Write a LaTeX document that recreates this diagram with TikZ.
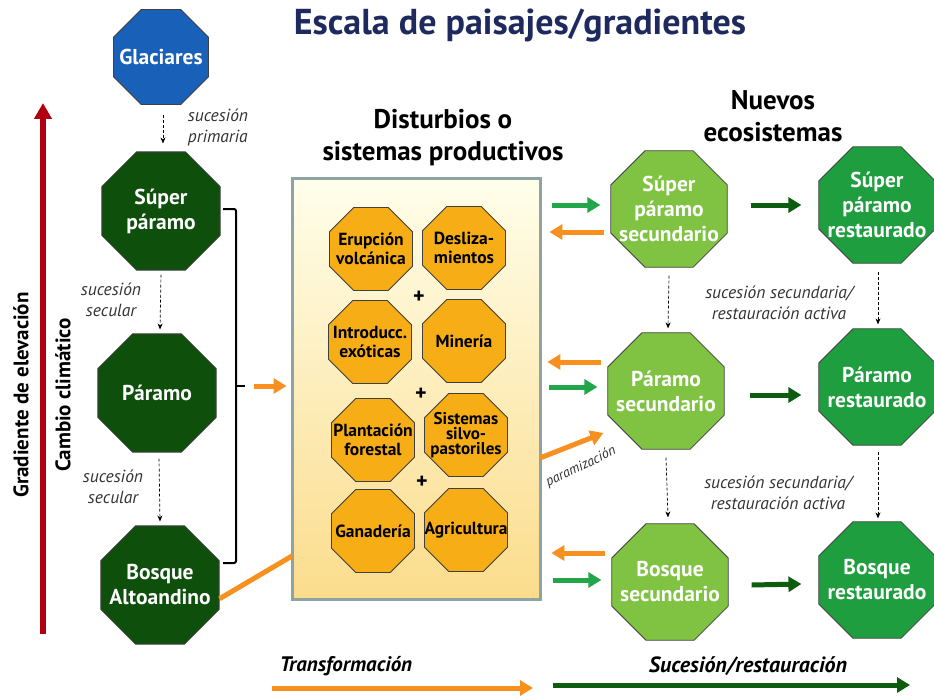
\documentclass[tikz,border=0pt]{standalone}
\usepackage{fontspec}
\setmainfont{PT Sans}
\usetikzlibrary{shapes.geometric,arrows.meta,calc}
\definecolor{navy}{HTML}{1E2A5E}
\definecolor{glablue}{HTML}{1860B8}
\definecolor{dkgreen}{HTML}{0E4F0C}
\definecolor{ltgreen}{HTML}{80C342}
\definecolor{rsgreen}{HTML}{1F9E3F}
\definecolor{octorange}{HTML}{F7AE16}
\definecolor{arrorange}{HTML}{F7901E}
\definecolor{arrgreen}{HTML}{22A64A}
\definecolor{arrdkgreen}{HTML}{0E5C0E}
\definecolor{elevred}{HTML}{B0000F}
\definecolor{boxborder}{HTML}{8FA3A5}
\definecolor{labelgray}{HTML}{333333}
\tikzset{
  oct/.style={regular polygon, regular polygon sides=8,
    draw=black!75, line width=0.8pt, inner sep=0pt},
  wlbl/.style={text=white, align=center, font=\bfseries\fontsize{21.5}{25}\selectfont},
  darkoct/.style={oct, fill=dkgreen, minimum size=128pt},
  lightoct/.style={oct, fill=ltgreen, minimum size=126pt},
  restoct/.style={oct, fill=rsgreen, minimum size=126pt},
  smalloct/.style={oct, fill=octorange, minimum size=90pt},
  blbl/.style={text=black, align=center, font=\bfseries\fontsize{17.5}{19}\selectfont},
  dasharr/.style={densely dashed, line width=0.7pt, -{Stealth[length=6pt,width=5pt]}},
  ital/.style={text=labelgray, align=center, font=\itshape\fontsize{17.5}{21}\selectfont},
  heading/.style={align=center, font=\bfseries\fontsize{27}{32}\selectfont},
  fatarr/.style={line width=5pt, -{Triangle[length=13pt,width=15pt]}},
  oarr/.style={fatarr, draw=arrorange},
  garr/.style={fatarr, draw=arrgreen},
  dgarr/.style={fatarr, draw=arrdkgreen},
  plus/.style={font=\bfseries\fontsize{22}{22}\selectfont},
}
\begin{document}
\begin{tikzpicture}[x=1pt,y=-1pt]
\useasboundingbox (0,0) rectangle (934,698);

% title
\node[text=navy, font=\bfseries\fontsize{36}{38}\selectfont] (title) at (520,26) {Escala de paisajes/gradientes};

% left column
\node[oct, fill=glablue, minimum size=103pt,
  label={[wlbl]center:Glaciares}] (gla) at (161,57) {};
\node[darkoct, label={[wlbl]center:Súper\\páramo}] (sp) at (161,211) {};
\node[darkoct, label={[wlbl]center:Páramo}] (pa) at (157,393) {};
\node[darkoct, label={[wlbl]center:Bosque\\Altoandino}] (ba) at (160,585) {};

\draw[dasharr] ($(gla.south)+(2,10)$) -- ($(sp.north)+(2,-8)$);
\node[ital, align=left] (l1) at (218,127) {sucesión\\primaria};
\draw[dasharr] ($(sp.south)+(0,4)$) -- ($(pa.north)+(3,-4)$);
\node[ital] (l2) at (111,300) {sucesión\\secular};
\draw[dasharr] ($(pa.south)+(2,6)$) -- ($(ba.north)+(0,-4)$);
\node[ital] (l3) at (113,487) {sucesión\\secular};

% elevation arrow and labels
\coordinate (rbot) at (43,634);
\coordinate (rtop) at (43,103);
\draw[elevred, line width=6pt, -{Triangle[length=16pt,width=17pt]}] (rbot) -- (rtop);
\node[rotate=90, font=\bfseries\fontsize{21}{21}\selectfont] (grad) at (21,395) {Gradiente de elevación};
\node[rotate=90, font=\bfseries\fontsize{21}{21}\selectfont] (cc) at (63,395) {Cambio climático};

% bracket
\draw[line width=2pt, rounded corners=2pt] (223,209) -- (236,209) -- (236,563) -- (223,563);
\draw[line width=2pt] (236,386) -- (245,386);

% box
\node[heading] (dh) at (443,138) {Disturbios o\\sistemas productivos};
\node[draw=boxborder, line width=3pt, top color=orange!5!yellow!8, bottom color={rgb,255:red,251;green,220;blue,140},
  minimum width=248pt, minimum height=421pt, inner sep=0pt] (box) at (416,389) {};
\draw[oarr] ($(box.west)+(-37,-3)$) -- ($(box.west)+(-4,-3)$);
\coordinate (boxin) at (292,556);
\draw[arrorange, line width=5pt] (ba.-13) -- (boxin);

\node[smalloct, label={[blbl]center:Erupción\\volcánica}] (eru) at (371,249) {};
\node[smalloct, label={[blbl]center:Desliza-\\mientos}] (des) at (464,248) {};
\node[plus] (p1) at (419,297) {+};
\node[smalloct, label={[blbl]center:Introducc.\\exóticas}] (intr) at (370,342) {};
\node[smalloct, label={[blbl]center:Minería}] (min) at (464,341) {};
\node[plus] (p2) at (421,394) {+};
\node[smalloct, label={[blbl]center:Plantación\\forestal}] (pla) at (373,440) {};
\node[smalloct, label={[blbl,font=\bfseries\fontsize{17}{15}\selectfont]center:Sistemas\\silvo-\\pastoriles}] (sis) at (466,435) {};
\node[plus] (p3) at (422,482) {+};
\node[smalloct, label={[blbl]center:Ganadería}] (gan) at (373,531) {};
\node[smalloct, label={[blbl]center:Agricultura}] (agr) at (466,530) {};

% right side
\node[heading] (nh) at (773,116) {Nuevos\\ecosistemas};
\node[lightoct, label={[wlbl]center:Súper\\páramo\\secundario}] (sps) at (669,209) {};
\node[lightoct, label={[wlbl]center:Páramo\\secundario}] (pas) at (666,391) {};
\node[lightoct, label={[wlbl]center:Bosque\\secundario}] (bas) at (670,582) {};
\node[restoct, label={[wlbl]center:Súper\\páramo\\restaurado}] (spr) at (877,205) {};
\node[restoct, label={[wlbl]center:Páramo\\restaurado}] (par) at (877,387) {};
\node[restoct, label={[wlbl]center:Bosque\\restaurado}] (bar) at (877,580) {};

% arrows box <-> secondary
\draw[garr] ($(sps.west)+(-58,-4)$) -- ($(sps.west)+(-10,-4)$);
\draw[oarr] ($(sps.west)+(-6,23)$) -- ($(sps.west)+(-61,23)$);
\draw[oarr] ($(pas.west)+(-6,-29)$) -- ($(pas.west)+(-60,-29)$);
\draw[garr] ($(pas.west)+(-58,-4)$) -- ($(pas.west)+(-10,-4)$);
\draw[oarr] ($(bas.west)+(-6,-29)$) -- ($(bas.west)+(-60,-29)$);
\draw[garr] ($(bas.west)+(-58,-2)$) -- ($(bas.west)+(-10,-2)$);
\coordinate (parstart) at (540,458);
\draw[oarr] (parstart) -- ($(pas.west)+(-4,42)$);
\node[text=labelgray, font=\itshape\fontsize{14}{14}\selectfont, rotate=26] (parlbl) at (581,467) {paramización};

% secondary -> restored
\draw[dgarr] ($(sps.east)+(23,-4)$) -- ($(spr.west)+(-17,0)$);
\draw[dgarr] ($(pas.east)+(25,4)$) -- ($(par.west)+(-17,8)$);
\draw[dgarr] ($(bas.east)+(23,3)$) -- ($(bar.west)+(-17,4)$);

% vertical dashed
\draw[dasharr] ($(sps.south)+(0,8)$) -- ($(pas.north)+(2,-4)$);
\draw[dasharr] ($(pas.south)+(0,8)$) -- ($(bas.north)+(-2,-6)$);
\draw[dasharr] ($(spr.south)+(1,8)$) -- ($(par.north)+(1,-4)$);
\draw[dasharr] ($(par.south)+(1,6)$) -- ($(bar.north)+(1,-3)$);
\node[ital] (s1) at (779,303) {sucesión secundaria/\\restauración activa};
\node[ital] (s2) at (778,493) {sucesión secundaria/\\restauración activa};

% bottom
\node[font=\bfseries\itshape\fontsize{21}{21}\selectfont] (tr) at (346,666) {Transformación};
\coordinate (tra) at (272,688);
\coordinate (trb) at (533,688);
\draw[oarr] (tra) -- (trb);
\node[font=\bfseries\itshape\fontsize{22}{22}\selectfont] (sr) at (748,666) {Sucesión/restauración};
\coordinate (sra) at (553,685);
\coordinate (srb) at (910,685);
\draw[dgarr] (sra) -- (srb);
\end{tikzpicture}
\end{document}
